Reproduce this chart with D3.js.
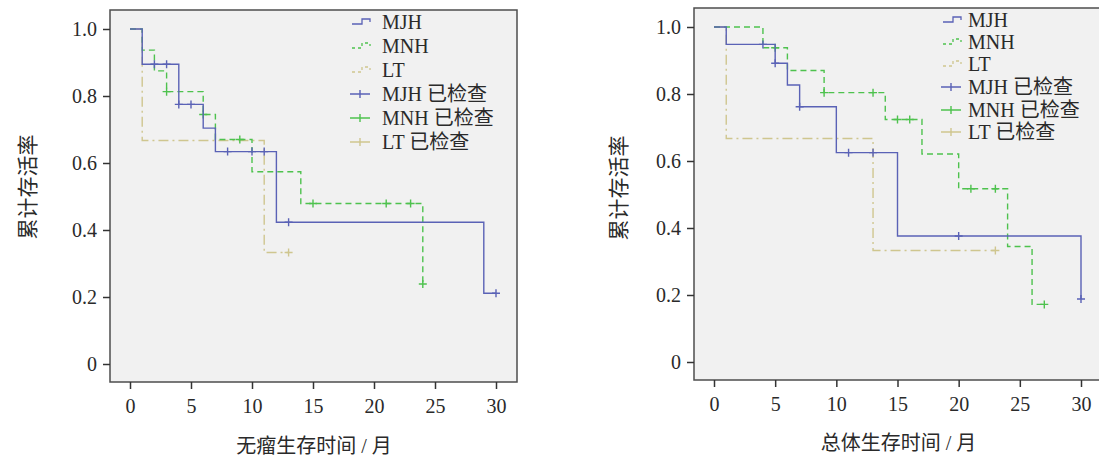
<!DOCTYPE html>
<html>
<head>
<meta charset="utf-8">
<script src="https://cdn.jsdelivr.net/npm/d3@7"></script>
<style>
  html, body { margin: 0; padding: 0; background: #fff; }
  svg { display: block; }
</style>
</head>
<body>
<svg id="chart" width="1099" height="457"></svg>
<script>
// groups and labels
const groups = ["MJH", "MNH", "LT"];
const censorSuffix = " 已检查";
const xTicks = [0, 5, 10, 15, 20, 25, 30];
const yTicks = [0, 0.2, 0.4, 0.6, 0.8, 1.0];
const yTitle = "累计存活率";

// left panel: disease-free survival (time, survival incl. end point)
const dfsMJHTime = [0, 1, 4, 6, 7, 12, 29, 30];
const dfsMJHSurv = [1, 0.895, 0.775, 0.704, 0.634, 0.423, 0.211, 0.211];
const dfsMJHCensor = [2, 3, 4, 5, 8, 10, 11, 13, 30];
const dfsMNHTime = [0, 1, 2, 3, 6, 7, 10, 14, 24];
const dfsMNHSurv = [1, 0.937, 0.875, 0.813, 0.745, 0.670, 0.574, 0.479, 0.239];
const dfsMNHCensor = [3, 6, 9, 15, 21, 23, 24];
const dfsLTTime = [0, 1, 11, 13];
const dfsLTSurv = [1, 0.667, 0.333, 0.333];
const dfsLTCensor = [13];

// right panel: overall survival
const osMJHTime = [0, 1, 5, 6, 7, 10, 15, 30];
const osMJHSurv = [1, 0.948, 0.892, 0.827, 0.762, 0.625, 0.376, 0.188];
const osMJHCensor = [4, 5, 7, 11, 13, 20, 30];
const osMNHTime = [0, 4, 6, 9, 14, 17, 20, 24, 26, 27];
const osMNHSurv = [1, 0.938, 0.870, 0.804, 0.724, 0.621, 0.517, 0.345, 0.172, 0.172];
const osMNHCensor = [5, 9, 13, 15, 16, 21, 23, 27];
const osLTTime = [0, 1, 13, 23];
const osLTSurv = [1, 0.667, 0.333, 0.333];
const osLTCensor = [23];

const colors = { MJH: "#5a62b6", MNH: "#4ec24e", LT: "#cfc68f" };
const dashes = { MJH: null, MNH: "6,4", LT: "10,4,2,4" };
const FONT = "'Liberation Serif', 'Times New Roman', 'DejaVu Serif', 'Noto Sans CJK SC', serif";

const svg = d3.select("#chart");

function series(times, surv, censor) {
  return {
    pts: times.map((t, i) => ({ t, s: surv[i] })),
    censor: censor.map(t => {
      // survival at censor time = last step at or before t
      let s = surv[0];
      times.forEach((tt, i) => { if (tt <= t) s = surv[i]; });
      return { t, s };
    })
  };
}

function label(sel, size) {
  return sel.style("font-family", FONT).style("font-size", size + "px").style("fill", "#2a2a2a");
}

function drawPanel(p) {
  const g = svg.append("g");
  const x = d3.scaleLinear().domain([0, 30]).range([p.x0, p.x30]);
  const y = d3.scaleLinear().domain([0, 1]).range([p.y0, p.y1]);

  g.append("rect")
    .attr("x", p.box[0]).attr("y", p.box[1])
    .attr("width", p.box[2] - p.box[0]).attr("height", p.box[3] - p.box[1])
    .attr("fill", "#f1f1f1").attr("stroke", "#4d4d4d").attr("stroke-width", 1.5);

  const yAxis = g.append("g")
    .attr("transform", `translate(${p.box[0]},0)`)
    .call(d3.axisLeft(y).tickValues(yTicks).tickSize(7).tickSizeOuter(0).tickPadding(6)
      .tickFormat(d => d === 0 ? "0" : d3.format(".1f")(d)));
  const xAxis = g.append("g")
    .attr("transform", `translate(0,${p.box[3]})`)
    .call(d3.axisBottom(x).tickValues(xTicks).tickSize(7).tickSizeOuter(0).tickPadding(10));
  [xAxis, yAxis].forEach(a => {
    a.attr("font-family", null).attr("font-size", null);
    a.select(".domain").remove();
    a.selectAll("line").attr("stroke", "#333").attr("stroke-width", 1.5);
    label(a.selectAll("text"), 20);
  });

  const line = d3.line().x(d => x(d.t)).y(d => y(d.s)).curve(d3.curveStepAfter);
  ["LT", "MNH", "MJH"].forEach(k => {
    const ser = p.data[k];
    g.append("path")
      .datum(ser.pts)
      .attr("d", line)
      .attr("fill", "none")
      .attr("stroke", colors[k])
      .attr("stroke-width", 1.4)
      .attr("stroke-dasharray", dashes[k]);
    g.selectAll(null)
      .data(ser.censor)
      .enter()
      .append("path")
      .attr("d", d => `M${x(d.t) - 4},${y(d.s)}H${x(d.t) + 4}M${x(d.t)},${y(d.s) - 4}V${y(d.s) + 4}`)
      .attr("stroke", colors[k])
      .attr("stroke-width", 1.4);
  });

  // legend
  const lg = g.append("g");
  groups.forEach((k, i) => {
    const cy = p.legRows[i];
    const lx = p.legX;
    lg.append("path")
      .attr("d", `M${lx},${cy + 2}H${lx + 10}V${cy - 3}H${lx + 18}V${cy}`)
      .attr("fill", "none").attr("stroke", colors[k]).attr("stroke-width", 1.3)
      .attr("stroke-dasharray", dashes[k] ? "3,3" : null);
    label(lg.append("text").attr("x", p.legTextX).attr("y", cy + 7), 20).text(k);
  });
  groups.forEach((k, i) => {
    const cy = p.legRows[i + 3];
    const lx = p.legX;
    lg.append("path")
      .attr("d", `M${lx - 2},${cy}H${lx + 18}M${lx + 8},${cy - 4}V${cy + 4}`)
      .attr("stroke", colors[k]).attr("stroke-width", 1.4);
    label(lg.append("text").attr("x", p.legTextX).attr("y", cy + 7), 20).text(k + censorSuffix);
  });

  label(g.append("text"), 20)
    .attr("x", (p.x0 + p.x30) / 2 + 1).attr("y", p.titleY)
    .attr("text-anchor", "middle")
    .text(p.title);
  label(g.append("text"), 21)
    .attr("transform", `translate(${p.yTitleX},${p.yTitleY}) rotate(-90)`)
    .attr("text-anchor", "middle").attr("dominant-baseline", "central")
    .text(yTitle);
}

drawPanel({
  box: [110, 10, 517, 382],
  x0: 130, x30: 496, y0: 364, y1: 29,
  title: "无瘤生存时间 / 月", titleY: 453,
  yTitleX: 28, yTitleY: 187,
  legX: 352, legTextX: 382,
  legRows: [22, 46, 70, 94, 118, 142],
  data: {
    MJH: series(dfsMJHTime, dfsMJHSurv, dfsMJHCensor),
    MNH: series(dfsMNHTime, dfsMNHSurv, dfsMNHCensor),
    LT: series(dfsLTTime, dfsLTSurv, dfsLTCensor)
  }
});

drawPanel({
  box: [694, 8, 1102, 380],
  x0: 714, x30: 1081, y0: 362, y1: 27,
  title: "总体生存时间 / 月", titleY: 450,
  yTitleX: 619, yTitleY: 188,
  legX: 943, legTextX: 968,
  legRows: [20, 42, 64, 87, 110, 132],
  data: {
    MJH: series(osMJHTime, osMJHSurv, osMJHCensor),
    MNH: series(osMNHTime, osMNHSurv, osMNHCensor),
    LT: series(osLTTime, osLTSurv, osLTCensor)
  }
});
</script>
</body>
</html>
